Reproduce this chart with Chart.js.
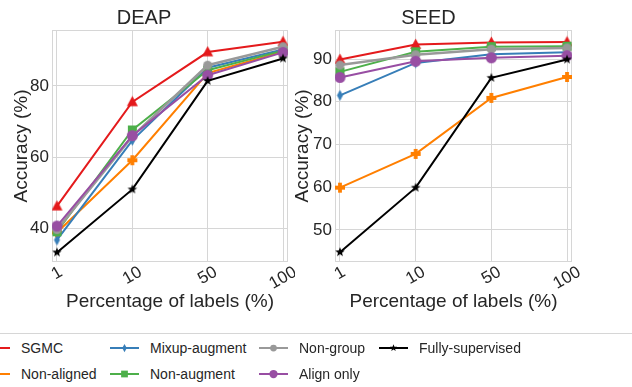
<!DOCTYPE html>
<html>
<head>
<meta charset="utf-8">
<script src="https://cdn.jsdelivr.net/npm/chart.js@4.4.0/dist/chart.umd.min.js"></script>
<style>
  body { margin: 0; width: 632px; height: 387px; background: #fff; overflow: hidden; position: relative;
         font-family: "Liberation Sans", Arial, sans-serif; color: #262626; }
  #deap { position: absolute; left: 0; top: 0; }
  #seed { position: absolute; left: 285px; top: 0; }
  #legend { position: absolute; left: -10px; top: 333px; width: 660px; height: 80px; border-top: 1px solid #d6d6d6; }
  .item { position: absolute; height: 20px; font-size: 14px; line-height: 20px; white-space: nowrap; }
  .item canvas { position: absolute; left: 0; top: 0; }
  .item span { position: absolute; left: 40px; top: 0; }
</style>
</head>
<body>
<canvas id="deap" width="295" height="330"></canvas>
<canvas id="seed" width="347" height="330"></canvas>
<div id="legend"></div>
<script>
const xLabels = ['1', '10', '50', '100'];

// DEAP accuracy (%)
const deapSGMC       = [46.2, 75.5, 89.5, 92.4];
const deapNonAligned = [38.8, 59.1, 83.6, 89.6];
const deapMixup      = [36.7, 64.7, 85.1, 90.2];
const deapNonAugment = [39.0, 67.6, 84.4, 89.9];
const deapNonGroup   = [39.6, 65.8, 85.8, 91.0];
const deapAlignOnly  = [40.6, 66.0, 83.0, 89.4];
const deapFully      = [33.2, 50.9, 81.4, 87.7];

// SEED accuracy (%)
const seedSGMC       = [89.9, 93.4, 93.9, 94.0];
const seedNonAligned = [59.9, 67.8, 80.9, 85.8];
const seedMixup      = [81.5, 89.1, 91.1, 91.6];
const seedNonAugment = [87.0, 91.7, 92.9, 93.0];
const seedNonGroup   = [88.6, 91.0, 92.3, 92.6];
const seedAlignOnly  = [85.7, 89.5, 90.3, 90.8];
const seedFully      = [44.8, 59.9, 85.6, 89.9];

const deapTicks = [40, 60, 80];
const seedTicks = [50, 60, 70, 80, 90];

const FONT = '"Liberation Sans", Arial, sans-serif';
const TEXT = '#262626';
const GRID = '#d6d6d6';

const series = [
  { name: 'SGMC',             color: '#e41a1c', shape: 'triangle', r: 5.5, deap: deapSGMC,       seed: seedSGMC },
  { name: 'Non-aligned',      color: '#ff7f00', shape: 'plus',     r: 5,   deap: deapNonAligned, seed: seedNonAligned },
  { name: 'Mixup-augment',    color: '#377eb8', shape: 'thindiam', r: 5.5, deap: deapMixup,      seed: seedMixup },
  { name: 'Non-augment',      color: '#4daf4a', shape: 'square',   r: 4.5, deap: deapNonAugment, seed: seedNonAugment },
  { name: 'Non-group',        color: '#999999', shape: 'circle',   r: 4.5, deap: deapNonGroup,   seed: seedNonGroup },
  { name: 'Align only',       color: '#984ea3', shape: 'circle',   r: 5.5, deap: deapAlignOnly,  seed: seedAlignOnly },
  { name: 'Fully-supervised', color: '#000000', shape: 'star',     r: 5,   deap: deapFully,      seed: seedFully }
];

function drawMarker(ctx, shape, cx, cy, r, color) {
  ctx.fillStyle = color;
  ctx.beginPath();
  if (shape === 'circle') {
    ctx.arc(cx, cy, r, 0, Math.PI * 2);
  } else if (shape === 'square') {
    ctx.rect(cx - r, cy - r, 2 * r, 2 * r);
  } else if (shape === 'triangle') {
    ctx.moveTo(cx, cy - r * 1.1);
    ctx.lineTo(cx + r, cy + r * 0.75);
    ctx.lineTo(cx - r, cy + r * 0.75);
  } else if (shape === 'thindiam') {
    ctx.moveTo(cx, cy - r);
    ctx.lineTo(cx + r * 0.55, cy);
    ctx.lineTo(cx, cy + r);
    ctx.lineTo(cx - r * 0.55, cy);
  } else if (shape === 'plus') {
    const t = r * 0.38;
    ctx.rect(cx - r, cy - t, 2 * r, 2 * t);
    ctx.rect(cx - t, cy - r, 2 * t, 2 * r);
  } else if (shape === 'star') {
    for (let k = 0; k < 10; k++) {
      const rr = k % 2 ? r * 0.42 : r;
      const a = -Math.PI / 2 + k * Math.PI / 5;
      ctx.lineTo(cx + rr * Math.cos(a), cy + rr * Math.sin(a));
    }
  }
  ctx.closePath();
  ctx.fill();
}

function markerImage(shape, color, r) {
  const c = document.createElement('canvas');
  const s = Math.ceil(r * 2 + 2);
  c.width = c.height = s;
  drawMarker(c.getContext('2d'), shape, s / 2, s / 2, r, color);
  return c;
}

// light grey box around the plot area
const frame = {
  id: 'frame',
  beforeDatasetsDraw(chart) {
    const { ctx, chartArea: a } = chart;
    ctx.save();
    ctx.strokeStyle = GRID;
    ctx.lineWidth = 1;
    ctx.strokeRect(a.left + 0.5, a.top + 0.5, a.right - a.left - 1, a.bottom - a.top - 1);
    ctx.restore();
  }
};

// x tick labels rotated 30 degrees and centred under their tick
const rotatedTicks = {
  id: 'rotatedTicks',
  afterDraw(chart) {
    const { ctx, chartArea, scales: { x } } = chart;
    const ang = Math.PI / 6;
    ctx.save();
    ctx.font = '17px ' + FONT;
    ctx.fillStyle = TEXT;
    ctx.textAlign = 'center';
    ctx.textBaseline = 'middle';
    xLabels.forEach((t, i) => {
      const w = ctx.measureText(t).width;
      const bh = w * Math.sin(ang) + 16 * Math.cos(ang);
      ctx.save();
      ctx.translate(x.getPixelForValue(i), chartArea.bottom + 2 + bh / 2);
      ctx.rotate(-ang);
      ctx.fillText(t, 0, 0);
      ctx.restore();
    });
    ctx.restore();
  }
};

function makeChart(id, title, key, yMin, yMax, yTicks, yWidth, titlePad, rightPad) {
  const datasets = series.map((s, i) => ({
    label: s.name,
    data: s[key].map((v, j) => ({ x: j, y: v })),
    borderColor: s.color,
    borderWidth: s.name === 'Non-group' ? 2.5 : 2,
    pointStyle: markerImage(s.shape, s.color, s.r),
    pointRadius: s.r,
    order: series.length - i,
    tension: 0
  }));

  return new Chart(document.getElementById(id), {
    type: 'line',
    data: { datasets },
    options: {
      responsive: false,
      animation: false,
      events: [],
      layout: { autoPadding: false, padding: { top: 6, left: 0, right: rightPad, bottom: 0 } },
      plugins: {
        legend: { display: false },
        tooltip: { enabled: false },
        title: {
          display: true, text: title, color: TEXT,
          font: { family: FONT, size: 20, weight: 'normal' },
          padding: { top: 0, bottom: 0 }
        }
      },
      scales: {
        x: {
          type: 'linear', min: -0.066, max: 3.066,
          afterBuildTicks: s => { s.ticks = xLabels.map((_, i) => ({ value: i })); },
          afterFit: s => { s.height = 68; },
          ticks: { display: false },
          grid: { color: GRID, drawTicks: false },
          border: { display: false },
          title: {
            display: true, text: 'Percentage of labels (%)', color: TEXT,
            font: { family: FONT, size: 19 }, padding: { top: 0, bottom: 17 }
          }
        },
        y: {
          min: yMin, max: yMax,
          afterBuildTicks: s => { s.ticks = yTicks.map(v => ({ value: v })); },
          afterFit: s => { s.width = yWidth; },
          ticks: { color: TEXT, font: { family: FONT, size: 17 }, padding: 3 },
          grid: { color: GRID, drawTicks: false },
          border: { display: false },
          title: {
            display: true, text: 'Accuracy (%)', color: TEXT,
            font: { family: FONT, size: 19 }, padding: { top: titlePad, bottom: 0 }
          }
        }
      }
    },
    plugins: [frame, rotatedTicks]
  });
}

makeChart('deap', 'DEAP', 'deap', 30.5, 95.7, deapTicks, 52, 10, 7);
makeChart('seed', 'SEED', 'seed', 42.5, 96.8, seedTicks, 50, 6, 60);

// legend, laid out column by column in two rows
const legend = document.getElementById('legend');
const colX = [-9, 120, 269, 389];
const rowY = [4, 30];
series.forEach((s, i) => {
  const item = document.createElement('div');
  item.className = 'item';
  item.style.left = colX[Math.floor(i / 2)] + 'px';
  item.style.top = rowY[i % 2] + 'px';
  const c = document.createElement('canvas');
  c.width = 30; c.height = 20;
  const g = c.getContext('2d');
  g.strokeStyle = s.color;
  g.lineWidth = 2;
  g.beginPath(); g.moveTo(0, 10); g.lineTo(29, 10); g.stroke();
  drawMarker(g, s.shape, 14.5, 10, s.r * 0.75, s.color);
  const t = document.createElement('span');
  t.textContent = s.name;
  item.appendChild(c);
  item.appendChild(t);
  legend.appendChild(item);
});
</script>
</body>
</html>
